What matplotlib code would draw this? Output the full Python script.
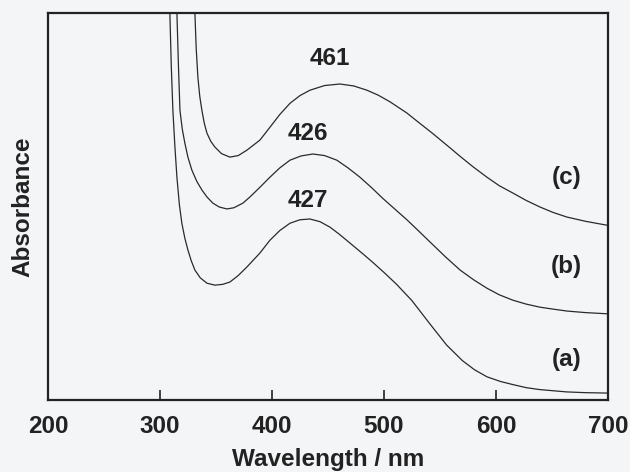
import matplotlib.pyplot as plt

plt.rcParams['font.family'] = ['Liberation Sans', 'DejaVu Sans']

# wavelength (nm) and absorbance (a.u.)
wl_a = [308.0, 308.9, 310.2, 311.6, 313.4, 315.2, 317.4, 319.6, 322.3, 325, 328,
        331.25, 336, 342, 349, 356, 362.5, 370, 377.7, 389.3, 398.2, 407, 416.1,
        425, 433.9, 443, 451.8, 460, 469.6, 482, 490, 500, 511, 525, 541, 556,
        570, 581, 592, 604, 615, 627, 639, 651, 663, 680, 699]
abs_a = [1.05, 1.0, 0.86, 0.749, 0.655, 0.576, 0.505, 0.457, 0.418, 0.388, 0.360,
         0.336, 0.316, 0.302, 0.297, 0.299, 0.305, 0.322, 0.344, 0.380, 0.413,
         0.438, 0.457, 0.466, 0.468, 0.461, 0.447, 0.429, 0.406, 0.376, 0.356,
         0.330, 0.300, 0.257, 0.197, 0.142, 0.102, 0.078, 0.060, 0.048, 0.040,
         0.032, 0.027, 0.024, 0.021, 0.019, 0.018]

wl_b = [314.5, 315.2, 316.5, 317.9, 320, 322.3, 325, 328.6, 333, 337.5, 342,
        347.3, 353, 359.8, 366, 374.1, 380.4, 389.3, 398.2, 407, 416.1, 426,
        436.6, 447, 458, 468, 478.6, 489, 499.1, 510, 520.5, 531, 541, 555, 568,
        580, 592, 603, 615.2, 627, 639.3, 651, 663.4, 680, 699]
abs_b = [1.05, 1.0, 0.87, 0.749, 0.70, 0.664, 0.628, 0.594, 0.565, 0.543, 0.525,
         0.509, 0.499, 0.494, 0.497, 0.509, 0.525, 0.550, 0.576, 0.600, 0.620,
         0.631, 0.636, 0.632, 0.620, 0.600, 0.576, 0.549, 0.521, 0.493, 0.466,
         0.437, 0.409, 0.370, 0.336, 0.311, 0.289, 0.272, 0.258, 0.248, 0.240,
         0.235, 0.230, 0.226, 0.223]

wl_c = [330.5, 331.25, 332.4, 333.9, 335.6, 337.5, 339.6, 342, 345.4, 349.1, 355,
        362.5, 370, 377.7, 389.3, 398.2, 407, 416.1, 425, 434, 447, 460.7, 473,
        484.8, 495, 505.4, 520.5, 530, 544, 559, 568, 580, 592, 603, 615.2, 627,
        639.3, 651, 663.4, 680, 699]
abs_c = [1.05, 1.0, 0.91, 0.835, 0.785, 0.749, 0.716, 0.690, 0.669, 0.654, 0.637,
         0.628, 0.632, 0.646, 0.672, 0.705, 0.738, 0.767, 0.787, 0.801, 0.813,
         0.817, 0.812, 0.801, 0.788, 0.771, 0.742, 0.720, 0.688, 0.652, 0.630,
         0.602, 0.576, 0.554, 0.535, 0.516, 0.499, 0.485, 0.473, 0.462, 0.452]

peak_labels = ['461', '426', '427']
peak_pos = [(452, 0.884), (432, 0.69), (432, 0.517)]
curve_labels = ['(c)', '(b)', '(a)']
curve_pos = [(663, 0.574), (663, 0.344), (663, 0.106)]

bg = '#f3f5f7'
ink = '#222222'
fig = plt.figure(figsize=(6.3, 4.72), dpi=100, facecolor=bg)
ax = fig.add_axes([0.076, 0.1525, 0.889, 0.8195], facecolor=bg)

for wl, a in [(wl_a, abs_a), (wl_b, abs_b), (wl_c, abs_c)]:
    ax.plot(wl, a, color='#2a2a2a', lw=0.9)

for txt, (x, y) in zip(peak_labels + curve_labels, peak_pos + curve_pos):
    ax.text(x, y, txt, ha='center', va='center', fontsize=17.5, fontweight='bold',
            color=ink)

ax.set_xlim(200, 700)
ax.set_ylim(0, 1)
ax.set_xticks([200, 300, 400, 500, 600, 700])
ax.set_yticks([])
ax.tick_params(axis='x', direction='in', length=7, width=1.2, labelsize=17.5,
               pad=11, colors=ink)
for lab in ax.get_xticklabels():
    lab.set_fontweight('bold')
for s in ax.spines.values():
    s.set_linewidth(1.6)
    s.set_color(ink)

ax.set_xlabel('Wavelength / nm', fontsize=17.5, fontweight='bold', labelpad=7,
              color=ink)
ax.set_ylabel('Absorbance', fontsize=17.5, fontweight='bold', labelpad=10,
              color=ink)

fig.savefig('out.png', dpi=100, facecolor=bg)
